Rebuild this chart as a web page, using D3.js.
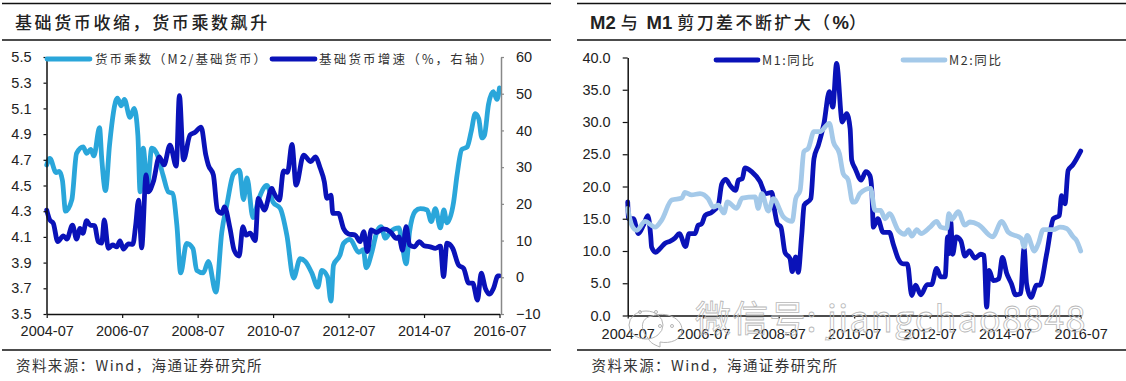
<!DOCTYPE html>
<html>
<head>
<meta charset="utf-8">
<script src="https://cdn.jsdelivr.net/npm/d3@7"></script>
<style>
	body { margin: 0; background: #fff; }
	svg { display: block; }
	text { fill: #222; font-family: 'Liberation Sans', Arial, sans-serif; }
	.cn { font-family: 'Noto Sans CJK SC', sans-serif; }
	.tick text { font-size: 14.5px; }
</style>
</head>
<body>
<script>
// x-waarden = maanden sinds 2004-07
const xTicks = [0, 24, 48, 72, 96, 120, 144]
const xLabels = ['2004-07', '2006-07', '2008-07', '2010-07', '2012-07', '2014-07', '2016-07']

const multTicks = [3.5, 3.7, 3.9, 4.1, 4.3, 4.5, 4.7, 4.9, 5.1, 5.3, 5.5]
const growthTicks = [-10, 0, 10, 20, 30, 40, 50, 60]
const pctTicks = [0, 5, 10, 15, 20, 25, 30, 35, 40]

// Links: geldmultiplicator
const multMonths = [0, 1, 3, 4, 5, 6, 8, 9.5, 11.6, 12.7, 14, 15, 16.8, 17.5, 18.7, 20, 22.5, 23.7, 24.7, 26.5, 27.8, 29, 29.7, 30.7, 32, 33.4, 35, 37, 38.7, 40, 41.4, 42.6, 44.5, 46.5, 47.7, 49.8, 51.4, 53.8, 55.7, 57.3, 59.4, 61.3, 62.6, 63.7, 65.6, 67.5, 70, 72, 74.3, 76.4, 78.5, 80.6, 82.2, 84.3, 86.2, 87.5, 89.3, 90.4, 91.2, 93.3, 94.4, 96.5, 99.2, 100.7, 101.6, 103.4, 105, 106.3, 107.7, 109.3, 112, 113, 114.3, 115.4, 117.2, 118.8, 121, 122.3, 123.6, 125.2, 126.3, 127.3, 129.4, 130.5, 132, 133.7, 135, 136.3, 137.4, 138.4, 139.2, 140.5, 142, 143.2, 144]
const multValues = [4.66, 4.71, 4.6, 4.61, 4.54, 4.3, 4.39, 4.75, 4.8, 4.75, 4.78, 4.73, 4.95, 4.71, 4.46, 4.82, 5.18, 5.12, 5.17, 5.03, 5.1, 4.89, 4.45, 4.79, 4.48, 4.79, 4.75, 4.58, 4.45, 4.44, 4.19, 3.82, 4.05, 4.01, 3.84, 3.82, 3.91, 3.67, 4.14, 4.35, 4.59, 4.62, 4.39, 4.56, 4.25, 4.4, 4.5, 4.37, 4.32, 4.11, 3.78, 3.93, 3.91, 3.82, 3.71, 3.84, 3.79, 3.6, 3.88, 3.96, 4.05, 4.08, 3.98, 4, 3.86, 3.98, 4.14, 4.18, 4.09, 4.14, 4.17, 4.05, 3.89, 4.14, 4.3, 4.32, 4.31, 4.22, 4.32, 4.17, 4.31, 4.21, 4.37, 4.58, 4.78, 4.8, 4.92, 5.06, 5.02, 4.87, 4.89, 5.13, 5.23, 5.17, 5.26]

// Links: groei basisgeld (rechter as)
const growthMonths = [0, 1, 2.1, 3.5, 5.3, 6.4, 8.2, 9.5, 10.6, 11.5, 12.7, 13.8, 15.2, 16.4, 17.5, 18.3, 19.6, 21, 22.3, 23.3, 24.4, 26, 27.4, 28.3, 29.2, 30.2, 31.6, 32.3, 33.9, 35.8, 37.3, 39.2, 41.2, 42.2, 43.5, 45.6, 47.2, 49.1, 50.6, 51.4, 53, 54.3, 55.7, 56.5, 58.3, 59.6, 61.2, 62.4, 63.4, 64.7, 66.3, 67.3, 69.2, 71.6, 72.1, 74, 75.3, 76.6, 78, 79.3, 81.7, 84, 85.4, 87, 88.3, 89.1, 90.4, 91, 92.8, 94.4, 96, 98.1, 99.7, 100.8, 102, 103.2, 104.8, 107.1, 109.3, 111.2, 112, 113.2, 114.3, 115.4, 116.9, 118.5, 120, 122, 123.6, 125.2, 126.2, 127.3, 129.1, 131, 132.6, 134.2, 135.5, 137, 138.2, 139.5, 140.9, 142.1, 143.5, 144]
const growthValues = [18.3, 15.6, 14.7, 9.7, 11.3, 10.4, 14.2, 10.4, 13.3, 12, 15.4, 14.2, 14.1, 9.7, 9.3, 15.6, 7.9, 8.8, 8.3, 9.9, 7.7, 9.1, 9, 14.2, 21, 8, 27.9, 23.3, 26, 32.8, 30.6, 36, 30.3, 49.5, 32, 38.8, 39.5, 40.9, 33.3, 30.6, 27.9, 18.3, 17.4, 19.2, 13.3, 7.4, 5.8, 13.8, 11.5, 12, 10, 21.5, 18.3, 24.2, 23.3, 21, 29, 28.6, 36.2, 25.1, 33.3, 31.5, 32.8, 29.7, 26, 21.5, 22.4, 17.4, 17.4, 13.3, 11.8, 11.5, 9.7, 12.4, 7, 12.9, 12.2, 13.2, 12.4, 10.6, 11, 7.4, 13.8, 8.8, 8.3, 9.7, 8.6, 8.3, 7.9, 8.5, 0.2, 9.3, 7.9, 3.3, 2.4, -1.6, -1.6, -6.2, 1.1, -3, -4.6, -3, 0.4, 0.4]

// Rechts: M1 jaar op jaar
const m1Months = [0, 0.3, 1.8, 3.4, 5, 6.4, 7.3, 7.6, 8.9, 10.3, 11.9, 13.4, 15, 16.4, 18.4, 19.5, 21.4, 22.4, 23.5, 24.6, 26.7, 28.8, 29.9, 31.2, 32.5, 34.3, 35.2, 36.4, 37.3, 39.4, 42, 43.9, 45.8, 46.8, 47.6, 48.7, 50, 51.6, 52.3, 53.4, 54.2, 55.3, 56.1, 58.2, 59.2, 60.6, 62.4, 64.1, 65.2, 66.4, 68.2, 69.6, 70.7, 71.2, 72.3, 74.2, 75.7, 77, 77.6, 78.1, 79.5, 81.2, 83.2, 84.4, 86, 87.6, 88.9, 90.3, 91.5, 93.2, 95.2, 96.6, 98.2, 99.5, 100.9, 101.7, 102.2, 102.7, 103.3, 104.4, 105.9, 107.2, 108.6, 110.4, 112.2, 113.3, 114.1, 114.9, 116.2, 118, 119.1, 120.5, 122, 123.3, 124.9, 126, 126.8, 128.2, 130, 131, 133.2, 135.3, 137.2, 137.9, 139, 140, 141.4, 144]
const m1Values = [17.6, 15, 15, 12.7, 14, 15.5, 12.4, 10.6, 9.8, 10.4, 11.2, 11.5, 12, 12.7, 10.7, 12.7, 12.7, 14, 14.2, 15.5, 16, 17.1, 20.4, 21.1, 20.2, 19.4, 21, 21.2, 22.9, 22.3, 20.8, 18.9, 19.1, 16, 14.2, 13.7, 9.8, 8.8, 6.8, 9.1, 6.7, 12.4, 17.1, 18.1, 24.3, 26.4, 29.8, 34.7, 32.3, 39.1, 30, 31.3, 29, 24.1, 22.8, 21, 22.3, 21.7, 19.4, 13.7, 15, 12.9, 12.9, 11.1, 8.8, 8, 8, 3.1, 4.7, 3.2, 4.8, 4.8, 7.3, 6, 6, 12.2, 9.6, 14.5, 9.5, 12.2, 11.6, 9.2, 10, 8.9, 9.5, 9.3, 1.3, 7, 5.4, 5.7, 9, 6.5, 4.9, 3.2, 3.4, 10.4, 4.9, 2.8, 4.7, 4.7, 9.6, 15, 15.5, 18.6, 17.3, 22.5, 23.3, 25.5]

// Rechts: M2 jaar op jaar
const m2Months = [0, 1.3, 2.9, 5.5, 8.7, 10.8, 14, 17.2, 18.2, 20.3, 23, 25.6, 27.2, 28.8, 30.6, 31.7, 34.6, 36.4, 40.5, 41.5, 42.6, 44.7, 46.3, 49.5, 52.3, 53.4, 54.8, 56, 57.4, 59.2, 61.1, 64.1, 65.4, 67.3, 68.5, 70.1, 71.5, 72.3, 73.8, 77.2, 78.6, 80.4, 81.8, 83.2, 86, 88.1, 89.2, 90.3, 91.9, 93.2, 96.1, 98.2, 99.5, 101.4, 102.1, 103, 105.1, 107.2, 108.8, 111.5, 116, 118.9, 121, 125.2, 126, 127, 129.3, 130.5, 132.1, 135.3, 137.4, 139.5, 141.6, 142.7, 144]
const m2Values = [16.6, 14, 13.2, 14.6, 13.7, 14.8, 17.9, 18.2, 19.1, 18.7, 18.9, 18.1, 16.8, 17.1, 15.9, 17.6, 16.6, 18.2, 18.4, 16.6, 18.9, 16.2, 18.1, 15.3, 14.6, 18.1, 19.4, 25.4, 25.9, 28.5, 28.5, 29.8, 26.9, 25.1, 22, 21, 17.6, 17.6, 18.9, 19.7, 16.3, 16.3, 15, 15.8, 13.2, 12.6, 13.3, 12.3, 13.3, 12.7, 13.7, 14.6, 13.7, 13.5, 15.8, 14.9, 16.1, 14, 14.5, 14.1, 12.2, 14.6, 12.9, 11.9, 10.6, 12.4, 10, 11.1, 13.3, 13.3, 13.7, 13.5, 12.2, 11.6, 10]

const lightBlue = '#2aa6da'
const darkBlue = '#0a12b8'
const paleBlue = '#a4c9e9'

const svg = d3.select('body').append('svg').attr('width', 1126).attr('height', 381)
svg.append('rect').attr('width', 1126).attr('height', 381).attr('fill', '#fff')

// Schalen
const xLeft = d3.scaleLinear().domain([0, 144]).range([46.7, 499.5])
const yMult = d3.scaleLinear().domain([3.5, 5.5]).range([314, 57])
const yGrowth = d3.scaleLinear().domain([-10, 60]).range([314, 57])
const xRight = d3.scaleLinear().domain([0, 144]).range([627.7, 1080.7])
const yPct = d3.scaleLinear().domain([0, 40]).range([315.5, 57.5])

// Kop- en voetlijnen van een paneel
function frame(x0, x1) {
	;[3.5, 40, 350].forEach(y => {
		svg.append('line').attr('x1', x0).attr('x2', x1).attr('y1', y).attr('y2', y).attr('stroke', '#111').attr('stroke-width', 1.3)
	})
}
frame(2, 551)
frame(577, 1126)

function drawLine(x, y, months, values, color) {
	const line = d3.line().x(d => x(d[0])).y(d => y(d[1])).curve(d3.curveMonotoneX)
	svg.append('path')
		.attr('d', line(d3.zip(months, values)))
		.attr('fill', 'none')
		.attr('stroke', color)
		.attr('stroke-width', 4.8)
		.attr('stroke-linejoin', 'round')
		.attr('stroke-linecap', 'round')
}

function styleAxis(g, color) {
	g.selectAll('.domain').attr('stroke', color).attr('stroke-width', 1.5)
	g.selectAll('.tick line').attr('stroke', color).attr('stroke-width', 1.2)
}

// Lijnen: lichte lijn links onder, M2 rechts boven
drawLine(xLeft, yMult, multMonths, multValues, lightBlue)
drawLine(xLeft, yGrowth, growthMonths, growthValues, darkBlue)
drawLine(xRight, yPct, m1Months, m1Values, darkBlue)
drawLine(xRight, yPct, m2Months, m2Values, paleBlue)

// Assen links
const gMult = svg.append('g').attr('transform', 'translate(46.5,0)')
	.call(d3.axisLeft(yMult).tickValues(multTicks).tickFormat(d3.format('.1f')).tickSize(3).tickSizeOuter(0).tickPadding(12))
styleAxis(gMult, '#111')
const gGrowth = svg.append('g').attr('transform', 'translate(501,0)')
	.call(d3.axisRight(yGrowth).tickValues(growthTicks).tickSize(3).tickSizeOuter(0).tickPadding(12))
styleAxis(gGrowth, '#888')
const gLeftX = svg.append('g').attr('transform', 'translate(0,314)')
	.call(d3.axisBottom(xLeft).tickValues(xTicks).tickFormat((d, i) => xLabels[i]).tickSize(4).tickSizeOuter(0).tickPadding(8))
styleAxis(gLeftX, '#111')

// Assen rechts
const gPct = svg.append('g').attr('transform', 'translate(627.7,0)')
	.call(d3.axisLeft(yPct).tickValues(pctTicks).tickFormat(d3.format('.1f')).tickSize(5).tickSizeOuter(0).tickPadding(12))
styleAxis(gPct, '#111')
const gRightX = svg.append('g').attr('transform', 'translate(0,315.5)')
	.call(d3.axisBottom(xRight).tickValues(xTicks).tickFormat((d, i) => xLabels[i]).tickSize(3).tickSizeOuter(0).tickPadding(10))
styleAxis(gRightX, '#111')

// Watermerk, ligt net als in het origineel over de aslabels heen
const mark = svg.append('g').attr('fill', 'none').attr('stroke', '#b4b4b4').attr('stroke-width', 1)
mark.append('ellipse').attr('cx', 646).attr('cy', 325).attr('rx', 17).attr('ry', 14)
mark.append('path').attr('d', 'M660,347 C652,344 650,342 648,338 C640,330 640,318 652,316 C666,311 682,318 682,330 C682,340 670,344 660,342 Z')
mark.selectAll('circle').data([[640, 312], [656, 312], [660, 326], [672, 326]]).join('circle')
	.attr('cx', d => d[0]).attr('cy', d => d[1]).attr('r', 1.5)
svg.append('text')
	.attr('x', 695).attr('y', 332)
	.attr('class', 'cn')
	.style('font-size', '36px')
	.style('letter-spacing', '1.2px')
	.style('fill', 'none')
	.style('stroke', '#b8b8b8')
	.style('stroke-width', 0.8)
	.text('微信号: jiangchao8848')

// Titels (\uff0c \uff08 \uff09 \uff1a zijn de Chinese leestekens van volle breedte)
function label(x, y, str, size, spacing, weight) {
	return svg.append('text')
		.attr('x', x).attr('y', y)
		.attr('class', 'cn')
		.style('font-size', size + 'px')
		.style('letter-spacing', spacing + 'px')
		.style('font-weight', weight || 400)
		.text(str)
}
label(15, 29, '基础货币收缩\uff0c货币乘数飙升', 17, 2.6, 500)

const title2 = svg.append('text').attr('x', 590).attr('y', 29).style('font-size', '17px').style('font-weight', 500)
const titleParts = [['M2 ', 1], ['与 ', 0], ['M1 ', 1], ['剪刀差不断扩大\uff08', 0], ['%', 1], ['\uff09', 0]]
titleParts.forEach(p => {
	title2.append('tspan')
		.text(p[0])
		.style('font-family', p[1] ? "'Liberation Sans', sans-serif" : "'Noto Sans CJK SC', sans-serif")
		.style('font-weight', p[1] ? 700 : 500)
		.style('font-size', p[1] ? '18.5px' : '17px')
		.style('letter-spacing', p[1] ? '0px' : '2.4px')
})

// Legenda's
function legendLine(x0, x1, y, color) {
	svg.append('line').attr('x1', x0).attr('x2', x1).attr('y1', y).attr('y2', y)
		.attr('stroke', color).attr('stroke-width', 4.8).attr('stroke-linecap', 'round')
}
legendLine(47, 90, 59, lightBlue)
label(95, 64, '货币乘数\uff08M2/基础货币\uff09', 12.5, 2).style('fill', '#333')
legendLine(272, 315, 59, darkBlue)
label(319, 64, '基础货币增速\uff08%\uff0c右轴\uff09', 12.5, 2.2).style('fill', '#333')
legendLine(716, 758, 60, darkBlue)
label(762, 65, 'M1:同比', 12.5, 1.6).style('fill', '#333')
legendLine(903, 945, 60, paleBlue)
label(949, 65, 'M2:同比', 12.5, 1.6).style('fill', '#333')

// Bron
label(16, 371, '资料来源\uff1aWind\uff0c海通证券研究所', 14.5, 1.4).style('fill', '#333')
label(591.5, 371, '资料来源\uff1aWind\uff0c海通证券研究所', 14.5, 1.4).style('fill', '#333')
</script>
</body>
</html>
